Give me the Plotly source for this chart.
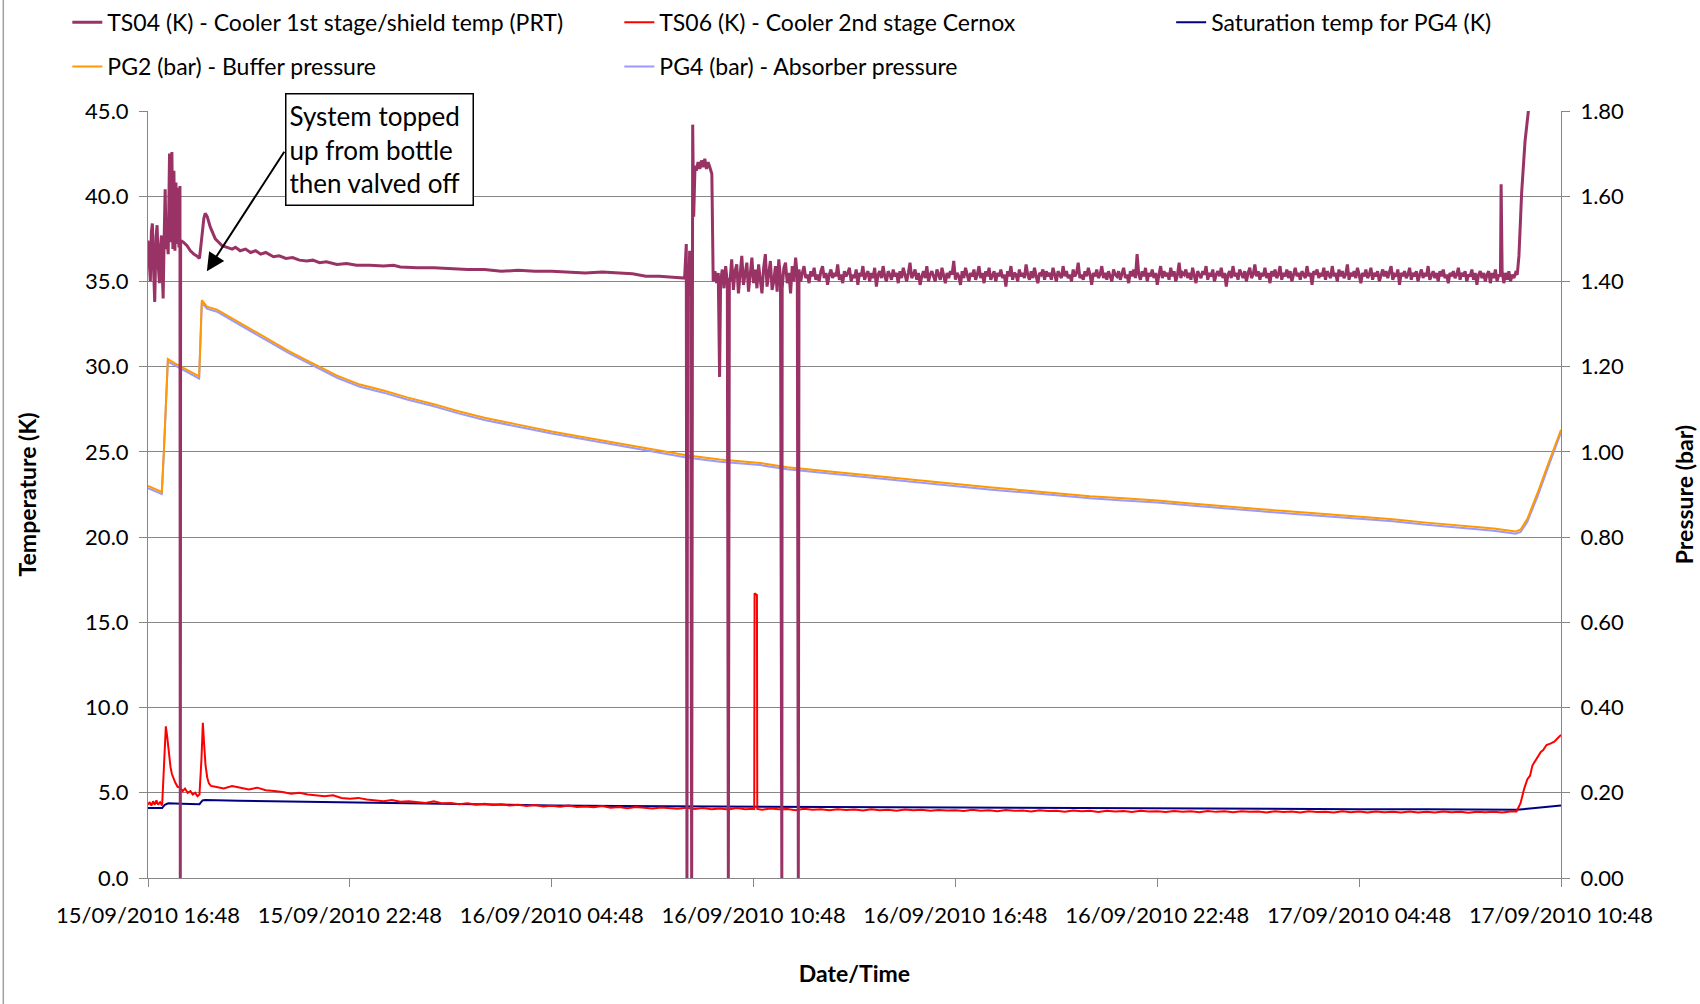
import pandas as pd
import plotly.graph_objects as go

# ---------------- data (hours after 15/09/2010 16:48) ----------------
START = pd.Timestamp("2010-09-15 16:48")

# TS04 (K) - Cooler 1st stage / shield temp (PRT)
ts04_hours = [0.00, 0.03, 0.07, 0.10, 0.13, 0.17, 0.20, 0.24, 0.27, 0.31, 0.34, 0.37, 0.40, 0.43, 0.45,
              0.48, 0.51, 0.54, 0.56, 0.60, 0.64, 0.67, 0.71, 0.74, 0.77, 0.80, 0.83, 0.86, 0.89, 0.92,
              0.95, 0.96, 0.97,
              1.05, 1.16, 1.26, 1.36, 1.45, 1.53, 1.60, 1.66, 1.70, 1.76, 1.85, 1.93, 2.00, 2.10, 2.20,
              2.35, 2.50, 2.60, 2.74, 2.90, 3.05, 3.20, 3.35, 3.50, 3.73, 3.90, 4.10, 4.30, 4.50, 4.72,
              4.90, 5.10, 5.30, 5.62, 5.90, 6.20, 6.60, 7.00, 7.30, 7.50, 8.00, 8.50, 9.00, 9.50, 10.0,
              10.5, 11.0, 11.5, 12.0, 12.5, 13.0, 13.5, 14.0, 14.4, 14.8, 15.2, 15.6, 15.95,
              16.00, 16.02, 16.04, 16.07, 16.10, 16.13, 16.16, 16.19, 16.22, 16.26, 16.30, 16.35, 16.40,
              16.45, 16.50, 16.55, 16.60, 16.65, 16.70, 16.76, 16.80, 16.85, 16.90, 16.95, 16.99, 17.02,
              17.07, 17.12, 17.17, 17.22, 17.25, 17.28,
              18.84, 19.33, 40.22,
              40.75, 40.83, 40.93, 41.03, 41.10]
ts04_values = [37.4, 36.2, 35.0, 37.9, 38.4, 35.5, 33.8, 37.6, 38.3, 35.8, 34.9, 37.0, 37.7, 35.2, 34.0,
               37.5, 40.4, 36.9, 37.8, 36.6, 42.5, 37.3, 42.6, 36.9, 41.5, 36.8, 40.8, 37.2, 40.5, 37.0,
               40.6, 0.0, 37.4,
               37.3, 37.1, 36.8, 36.6, 36.5, 36.35, 37.6, 38.7, 39.0, 38.8, 38.2, 37.8, 37.5, 37.3, 37.1,
               37.0, 36.9, 37.0, 36.8, 36.9, 36.7, 36.8, 36.6, 36.7, 36.45, 36.5, 36.35, 36.4, 36.25, 36.2,
               36.25, 36.1, 36.15, 36.0, 36.05, 35.95, 35.95, 35.9, 35.95, 35.85, 35.8, 35.8, 35.75, 35.7, 35.7,
               35.6, 35.65, 35.6, 35.6, 35.55, 35.5, 35.55, 35.5, 35.45, 35.3, 35.3, 35.25, 35.2,
               37.2, 0.0, 35.5, 34.2, 36.8, 34.6, 0.0, 44.2, 38.8, 41.8, 41.5, 42.0, 41.6,
               42.1, 41.7, 42.2, 41.6, 42.0, 41.7, 41.3, 35.0, 35.6, 34.9, 35.5, 29.4, 35.0,
               35.7, 34.6, 35.9, 34.9, 0.0, 35.2,
               0.0, 0.0, 40.7,
               36.5, 40.2, 43.2, 45.0, 47.0]

# TS04 logged every 0.05 h from 17.3 h to 40.7 h
ts04_log_start = 17.3
ts04_log_step = 0.05
ts04_log_values = [
    35.0, 36.3, 34.5, 35.6, 36.0, 34.3, 35.2, 36.5, 34.8, 35.5,
    36.1, 34.4, 35.3, 36.4, 34.9, 35.7, 34.6, 36.0, 35.1, 34.3,
    35.8, 36.6, 34.7, 35.4, 36.2, 34.5, 35.0, 35.9, 34.4, 36.3,
    35.2, 34.6, 35.8, 36.1, 34.9, 35.5, 34.3, 35.9, 35.0, 36.4,
    35.3, 35.7, 35.0, 35.5, 35.9, 35.2, 35.4, 34.9, 35.6, 35.3,
    35.8, 35.1, 35.4, 35.0, 35.6, 35.9, 35.2, 35.5, 34.8, 35.4,
    35.7, 35.2, 35.5, 35.3, 36.0, 35.1, 35.4, 34.9, 35.6, 35.3,
    35.5, 35.8, 35.0, 35.4, 35.2, 35.7, 34.8, 35.5, 35.3, 35.9,
    35.1, 35.4, 35.6, 35.0, 35.5, 35.2, 35.8, 34.7, 35.4, 35.6,
    35.2, 35.9, 35.3, 35.0, 35.6, 35.4, 35.1, 35.7, 35.3, 35.5,
    34.9, 35.6, 35.2, 35.8, 35.4, 35.0, 35.5, 36.1, 35.2, 35.4,
    35.7, 35.1, 35.5, 34.8, 35.3, 35.6, 35.2, 35.9, 35.0, 35.4,
    35.6, 35.3, 35.0, 35.7, 35.4, 35.1, 35.8, 35.3, 34.9, 35.5,
    35.2, 35.6, 35.4, 36.2, 35.1, 35.5, 35.3, 34.8, 35.6, 35.2,
    35.8, 35.4, 35.0, 35.5, 35.3, 35.7, 35.1, 35.4, 35.9, 35.2,
    35.5, 34.9, 35.6, 35.3, 35.8, 35.1, 35.4, 35.6, 35.0, 35.5,
    35.3, 35.7, 35.2, 35.4, 34.7, 35.6, 35.3, 35.9, 35.1, 35.5,
    35.4, 35.0, 35.7, 35.3, 35.5, 35.2, 36.0, 35.4, 35.1, 35.6,
    35.2, 35.8, 35.3, 34.9, 35.5, 35.4, 35.7, 35.1, 35.6, 35.3,
    35.5, 35.1, 35.8, 35.3, 35.0, 35.6, 35.4, 35.2, 35.9, 35.3,
    35.6, 35.2, 35.4, 35.0, 35.7, 35.3, 35.5, 36.1, 35.2, 35.4,
    35.1, 35.6, 35.3, 35.8, 35.4, 34.8, 35.5, 35.3, 35.7, 35.2,
    35.4, 35.9, 35.2, 35.5, 35.1, 35.6, 35.3, 35.0, 35.7, 35.4,
    35.3, 35.6, 35.1, 35.5, 35.8, 35.2, 35.4, 34.9, 35.6, 35.3,
    35.7, 35.2, 36.6, 35.4, 35.1, 35.6, 35.3, 35.8, 35.0, 35.5,
    35.3, 35.7, 35.2, 35.5, 34.8, 35.4, 35.9, 35.2, 35.6, 35.3,
    35.5, 35.1, 35.8, 35.3, 35.6, 35.0, 35.4, 36.1, 35.2, 35.5,
    35.4, 35.7, 35.2, 35.5, 35.1, 35.8, 35.3, 34.9, 35.6, 35.4,
    35.2, 35.6, 35.4, 35.9, 35.1, 35.5, 35.3, 35.7, 35.0, 35.4,
    35.6, 35.3, 35.8, 35.2, 35.5, 34.7, 35.4, 35.6, 35.2, 35.9,
    35.3, 35.5, 35.1, 35.7, 35.4, 35.2, 35.6, 35.0, 35.5, 35.8,
    35.2, 35.4, 36.0, 35.3, 35.6, 35.1, 35.5, 35.3, 35.8, 35.2,
    35.5, 34.9, 35.6, 35.3, 35.7, 35.2, 35.4, 35.9, 35.1, 35.5,
    35.3, 35.7, 35.2, 35.6, 35.0, 35.4, 35.8, 35.3, 35.5, 35.1,
    35.6, 35.4, 35.2, 35.9, 35.3, 35.5, 34.8, 35.6, 35.4, 35.7,
    35.2, 35.5, 35.3, 35.8, 35.1, 35.6, 35.4, 35.2, 35.9, 35.3,
    35.5, 35.0, 35.7, 35.3, 35.6, 35.2, 35.4, 36.0, 35.1, 35.5,
    35.3, 35.6, 35.2, 35.8, 35.4, 34.9, 35.5, 35.3, 35.7, 35.2,
    35.4, 35.8, 35.1, 35.5, 35.3, 35.6, 35.0, 35.4, 35.7, 35.3,
    35.6, 35.2, 35.5, 35.9, 35.1, 35.4, 35.3, 35.7, 34.8, 35.5,
    35.3, 35.6, 35.2, 35.4, 35.8, 35.1, 35.5, 35.3, 35.6, 35.0,
    35.4, 35.7, 35.2, 35.5, 35.3, 35.9, 35.1, 35.4, 35.6, 35.2,
    35.5, 35.0, 35.6, 35.3, 35.7, 35.2, 35.4, 34.9, 35.5, 35.3,
    35.6, 35.2, 35.4, 35.8, 35.1, 35.5, 35.3, 35.6, 35.0, 35.4,
    35.3, 35.7, 35.1, 35.5, 34.8, 35.4, 35.6, 35.2, 35.5, 35.0,
    35.4, 35.6, 34.9, 35.5, 35.2, 35.7, 35.0, 35.4, 35.3, 35.6,
    34.9, 35.5, 35.1, 35.6, 35.0, 35.4, 35.2, 35.5, 35.4]

# TS06 (K) - Cooler 2nd stage Cernox
ts06_hours = [0.00, 0.05, 0.10, 0.15, 0.20, 0.25, 0.30, 0.36, 0.42, 0.48, 0.53, 0.57, 0.62, 0.67,
              0.71, 0.76, 0.81, 0.88, 0.96, 1.03, 1.10, 1.18, 1.26, 1.33, 1.40, 1.47, 1.53, 1.59,
              1.63, 1.67, 1.71, 1.76, 1.81, 1.87, 1.95,
              18.02, 18.03, 18.10, 18.11,
              40.68, 40.80, 40.90, 41.00, 41.08, 41.15, 41.28, 41.40, 41.47, 41.57, 41.70, 41.80,
              41.90, 42.00]
ts06_values = [4.3, 4.45, 4.25, 4.5, 4.3, 4.55, 4.3, 4.45, 4.25, 6.5, 8.9, 8.3, 7.2, 6.5,
               6.1, 5.8, 5.6, 5.35, 5.3, 5.1, 5.25, 5.0, 5.1, 4.9, 5.0, 4.8, 4.9, 7.0,
               9.1, 7.8, 6.6, 5.9, 5.55, 5.4, 5.35,
               4.05, 16.7, 16.6, 4.05,
               3.9, 4.4, 5.2, 5.8, 6.0, 6.6, 7.0, 7.4, 7.5, 7.8, 7.9, 8.0,
               8.2, 8.4]

# TS06 logged every 0.25 h from 2.0 h to 40.5 h
ts06_log_start = 2.0
ts06_log_step = 0.25
ts06_log_values = [
    5.35, 5.25, 5.4, 5.3, 5.2, 5.3, 5.15, 5.1, 5.05, 4.95, 5.0, 4.9,
    4.85, 4.8, 4.85, 4.7, 4.65, 4.7, 4.6, 4.55, 4.5, 4.58, 4.48, 4.5,
    4.45, 4.4, 4.5, 4.38, 4.4, 4.33, 4.38, 4.3, 4.35, 4.28, 4.32, 4.25,
    4.3, 4.22, 4.28, 4.2, 4.24, 4.18, 4.25, 4.17, 4.2, 4.15, 4.22, 4.12,
    4.17, 4.1, 4.16, 4.12, 4.08, 4.14, 4.1, 4.06, 4.12, 4.05, 4.1, 4.04,
    4.08, 4.02, 4.1, 4.04, 4.06, 4.0, 4.08, 4.03, 4.05, 3.98, 4.06, 4.0,
    4.03, 3.97, 4.04, 3.99, 4.02, 3.96, 4.03, 3.98, 4.0, 3.95, 4.02, 3.97,
    4.01, 3.94, 3.99, 3.96, 3.98, 3.93, 4.0, 3.95, 3.97, 3.92, 3.99, 3.94,
    3.96, 3.9, 3.97, 3.93, 3.95, 3.89, 3.96, 3.92, 3.94, 3.88, 3.95, 3.9,
    3.93, 3.87, 3.94, 3.9, 3.92, 3.87, 3.93, 3.89, 3.92, 3.86, 3.93, 3.88,
    3.91, 3.86, 3.92, 3.88, 3.9, 3.85, 3.92, 3.87, 3.9, 3.85, 3.91, 3.87,
    3.89, 3.84, 3.91, 3.86, 3.9, 3.84, 3.9, 3.86, 3.88, 3.84, 3.9, 3.85,
    3.89, 3.84, 3.9, 3.86, 3.88, 3.83, 3.89, 3.86, 3.88, 3.84, 3.9]

# Saturation temp for PG4 (K)
sat_hours = [0.0, 0.42, 0.50, 0.60, 1.00, 1.53, 1.62, 1.70, 2.7, 3.7, 4.7, 5.6, 7.0, 8.5, 10.0,
             12.0, 14.0, 16.0, 18.0, 20.0, 22.0, 24.0, 26.0, 28.0, 30.0, 32.0, 34.0, 36.0, 38.0,
             40.0, 40.68, 41.0, 41.5, 42.0]
sat_values = [4.1, 4.1, 4.3, 4.38, 4.36, 4.33, 4.55, 4.57, 4.53, 4.5, 4.46, 4.43, 4.38, 4.35, 4.3,
              4.26, 4.22, 4.2, 4.19, 4.16, 4.15, 4.13, 4.12, 4.1, 4.08, 4.07, 4.05, 4.04, 4.03,
              4.02, 4.0, 4.06, 4.15, 4.25]

# PG2 (bar) - Buffer pressure, PG4 (bar) - Absorber pressure
pg_hours = [0.0, 0.2, 0.41, 0.47, 0.59, 0.8, 1.0, 1.25, 1.52, 1.6, 1.75, 2.05, 2.4, 2.74, 3.2,
            3.73, 4.2, 4.72, 5.2, 5.62, 6.3, 7.0, 7.7, 8.5, 9.2, 10.0, 11.0, 12.0, 13.0, 14.0,
            15.0, 16.0, 17.0, 18.2, 19.0, 20.0, 21.0, 22.0, 23.0, 24.0, 25.0, 26.0, 27.0, 28.0,
            29.0, 30.0, 31.0, 32.0, 33.0, 34.0, 35.0, 36.0, 37.0, 38.0, 39.0, 40.0, 40.65, 40.8,
            41.0, 41.3, 41.6, 41.9, 42.0]
pg2_values = [0.920, 0.914, 0.906, 1.000, 1.218, 1.208, 1.199, 1.188, 1.177, 1.356, 1.341, 1.334,
              1.318, 1.302, 1.280, 1.256, 1.236, 1.215, 1.195, 1.179, 1.158, 1.144, 1.128, 1.112,
              1.096, 1.080, 1.064, 1.048, 1.034, 1.020, 1.005, 0.992, 0.982, 0.974, 0.964, 0.956,
              0.948, 0.940, 0.932, 0.924, 0.917, 0.910, 0.903, 0.896, 0.891, 0.886, 0.879, 0.872,
              0.866, 0.860, 0.854, 0.848, 0.842, 0.834, 0.827, 0.820, 0.813, 0.818, 0.843, 0.903,
              0.968, 1.028, 1.052]
pg4_values = [0.915, 0.909, 0.901, 0.995, 1.212, 1.203, 1.194, 1.183, 1.172, 1.350, 1.336, 1.329,
              1.313, 1.297, 1.275, 1.251, 1.231, 1.210, 1.190, 1.174, 1.153, 1.139, 1.123, 1.107,
              1.091, 1.075, 1.059, 1.043, 1.029, 1.015, 1.000, 0.987, 0.977, 0.969, 0.959, 0.951,
              0.943, 0.935, 0.927, 0.919, 0.912, 0.905, 0.898, 0.891, 0.886, 0.881, 0.874, 0.867,
              0.861, 0.855, 0.849, 0.843, 0.837, 0.829, 0.822, 0.815, 0.808, 0.812, 0.836, 0.895,
              0.960, 1.021, 1.046]

series_names = ["TS04 (K) - Cooler 1st stage/shield temp (PRT)",
                "TS06 (K) - Cooler 2nd stage Cernox",
                "Saturation temp for PG4 (K)",
                "PG2 (bar) - Buffer pressure",
                "PG4 (bar) - Absorber pressure"]
series_colors = ["#993366", "#FF0000", "#000080", "#FF9900", "#9999FF"]

annotation_text = "System topped<br>up from bottle<br>then valved off"


# ---------------- helpers ----------------
def merge(hours, values, log_start, log_step, log_values):
    pts = list(zip(hours, values))
    pts += [(round(log_start + i * log_step, 4), v) for i, v in enumerate(log_values)]
    pts.sort(key=lambda p: p[0])
    return [p[0] for p in pts], [p[1] for p in pts]


def to_time(hours):
    return [START + pd.Timedelta(hours=h) for h in hours]


ts04_h, ts04_v = merge(ts04_hours, ts04_values, ts04_log_start, ts04_log_step, ts04_log_values)
ts06_h, ts06_v = merge(ts06_hours, ts06_values, ts06_log_start, ts06_log_step, ts06_log_values)

FONT = "Lato, Carlito, Calibri, sans-serif"
GRID = "#868686"

fig = go.Figure()
# pressure traces on base axis (y), temperature on overlay axis (y2, left side) so they draw on top
fig.add_trace(go.Scatter(x=to_time(pg_hours), y=pg4_values, name=series_names[4], mode="lines",
                         line=dict(color=series_colors[4], width=2), yaxis="y",
                         legend="legend2", legendrank=2))
fig.add_trace(go.Scatter(x=to_time(pg_hours), y=pg2_values, name=series_names[3], mode="lines",
                         line=dict(color=series_colors[3], width=2), yaxis="y",
                         legend="legend2", legendrank=1))
fig.add_trace(go.Scatter(x=to_time(sat_hours), y=sat_values, name=series_names[2], mode="lines",
                         line=dict(color=series_colors[2], width=2), yaxis="y2",
                         legend="legend3", legendrank=3))
fig.add_trace(go.Scatter(x=to_time(ts06_h), y=ts06_v, name=series_names[1], mode="lines",
                         line=dict(color=series_colors[1], width=2), yaxis="y2",
                         legend="legend", legendrank=2))
fig.add_trace(go.Scatter(x=to_time(ts04_h), y=ts04_v, name=series_names[0], mode="lines",
                         line=dict(color=series_colors[0], width=3), yaxis="y2",
                         legend="legend", legendrank=1))

x_end = START + pd.Timedelta(hours=42)

legend_common = dict(orientation="h", xanchor="left", yanchor="middle",
                     entrywidth=507, entrywidthmode="pixels", font=dict(family=FONT, size=23),
                     bgcolor="rgba(0,0,0,0)", traceorder="normal")

fig.update_layout(
    width=1700, height=1004, autosize=False,
    margin=dict(l=148, r=139, t=111, b=126, autoexpand=False),
    paper_bgcolor="white", plot_bgcolor="white",
    font=dict(family=FONT, size=22, color="black"),
    showlegend=True,
    xaxis=dict(
        type="date", range=[START, x_end], tick0=START, dtick=6 * 3600 * 1000,
        tickformat="%d/%m/%Y %H:%M", showgrid=False, showline=True, linecolor=GRID, linewidth=1,
        ticks="outside", ticklen=8, tickcolor=GRID, ticklabelstandoff=10,
        tickfont=dict(family=FONT, size=22),
        title=dict(text="<b>Date/Time</b>", font=dict(family=FONT, size=23), standoff=38),
        zeroline=False,
    ),
    yaxis=dict(
        range=[0, 1.8], dtick=0.2, tick0=0, tickformat=".2f", side="right",
        showgrid=True, gridcolor=GRID, gridwidth=1, showline=True, linecolor=GRID,
        ticks="outside", ticklen=8, tickcolor=GRID, ticklabelstandoff=6,
        tickfont=dict(family=FONT, size=22), zeroline=False,
        title=dict(text="<b>Pressure (bar)</b>", font=dict(family=FONT, size=23), standoff=53),
    ),
    yaxis2=dict(
        range=[0, 45], dtick=5, tick0=0, tickformat=".1f", side="left", overlaying="y",
        showgrid=False, showline=True, linecolor=GRID, ticks="outside", ticklen=8, tickcolor=GRID,
        ticklabelstandoff=6, tickfont=dict(family=FONT, size=22), zeroline=False,
        title=dict(text="<b>Temperature (K)</b>", font=dict(family=FONT, size=23), standoff=42),
    ),
    legend=dict(x=-0.0571, y=1.1158, **legend_common),
    legend3=dict(x=0.7241, y=1.1158, **legend_common),
    legend2=dict(x=-0.0571, y=1.058, **legend_common),
)

# annotation box and arrow
fig.add_annotation(
    text=annotation_text, xref="paper", yref="paper", x=0.0971, y=1.0229,
    xanchor="left", yanchor="top", align="left", valign="middle", showarrow=False,
    width=180, height=104,
    bordercolor="black", borderwidth=1.5, borderpad=3, bgcolor="white",
    font=dict(family=FONT, size=26, color="black"),
)
fig.add_annotation(
    text="", x=START + pd.Timedelta(hours=1.75), y=35.6, xref="x", yref="y2",
    ax=START + pd.Timedelta(hours=4.08), ay=42.7, axref="x", ayref="y2",
    showarrow=True, arrowhead=2, arrowsize=1.8, arrowwidth=2, arrowcolor="black",
)

# outer chart-area border (left edge)
fig.add_shape(type="line", xref="paper", yref="paper", x0=-0.1024, x1=-0.1024, y0=-0.17, y1=1.15,
              line=dict(color="#A0A0A0", width=1.5))

fig.write_html("out.html", config={"displayModeBar": False},
               post_script="document.body.style.margin='0px'; document.body.style.overflow='hidden';")
